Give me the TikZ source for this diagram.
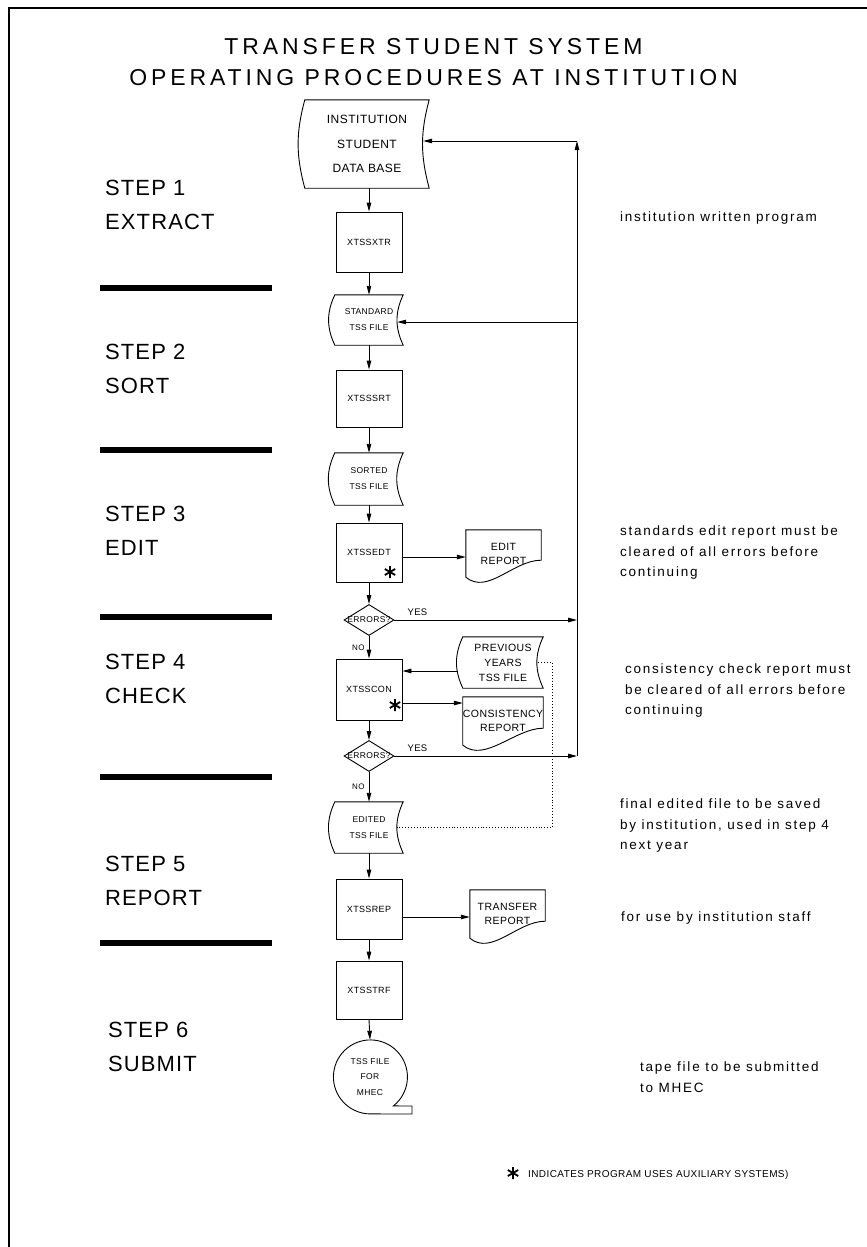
\documentclass[tikz,border=0pt]{standalone}
\usepackage{fontspec}
\setmainfont{Liberation Sans}
\newfontfamily\titlefont[LetterSpace=17]{Liberation Sans}
\newfontfamily\stepfont[LetterSpace=5]{Liberation Sans}
\newfontfamily\notefont[LetterSpace=13]{Liberation Sans}
\newfontfamily\smallfont[LetterSpace=4]{Liberation Sans}
\usetikzlibrary{arrows.meta,shapes.geometric}
\newcommand\storedshape[2]{\draw[shapeline] (#1.north west) to[bend right=#2] (#1.south west) -- (#1.south east) to[bend left=#2] (#1.north east) -- cycle;}
\newcommand\docshape[1]{\draw[shapeline] (#1.north west) -- (#1.north east) -- ([yshift=17pt]#1.south east) .. controls +(-28,0) and +(22,18) .. (#1.south west) -- cycle;}
\begin{document}
\begin{tikzpicture}[x=1pt,y=-1pt,
  shapeline/.style={line width=0.9pt},
  procbox/.style={draw, line width=0.9pt, minimum width=66pt, minimum height=60pt, inner sep=0pt, font=\smallfont\fontsize{9}{11}\selectfont},
  filenode/.style={minimum width=68pt, minimum height=50pt, inner sep=0pt, align=center, font=\smallfont\fontsize{8.5}{16}\selectfont},
  docnode/.style={minimum width=75pt, minimum height=47pt, inner sep=0pt, align=center, font=\smallfont\fontsize{10.5}{14}\selectfont},
  decision/.style={draw, diamond, line width=0.9pt, minimum width=50pt, minimum height=31pt, inner sep=0pt, font=\smallfont\fontsize{8.5}{10}\selectfont},
  arr/.style={line width=0.9pt, -{Triangle[length=9pt,width=4.5pt]}},
  dotline/.style={line width=0.9pt, dotted},
  titletext/.style={anchor=base, inner sep=0pt, font=\titlefont\fontsize{23}{30}\selectfont},
  steplabel/.style={anchor=north west, align=left, inner sep=0pt, font=\stepfont\fontsize{22}{34}\selectfont},
  note/.style={anchor=north west, align=left, inner sep=0pt, font=\notefont\fontsize{13.5}{20.5}\selectfont},
  yeslabel/.style={inner sep=0pt, font=\smallfont\fontsize{9.5}{10}\selectfont},
  nolabel/.style={inner sep=0pt, font=\smallfont\fontsize{8}{10}\selectfont},
  bar/.style={fill=black},
  astmark/.pic={\draw[line width=1.8pt] (0,-6) -- (0,6) (-5.2,-3) -- (5.2,3) (-5.2,3) -- (5.2,-3);}
]
\fill[white] (0,0) rectangle (867,1247);
\useasboundingbox (0,0) rectangle (867,1247);
\draw[line width=1.2pt] (9,1247) -- (9,8) -- (867,8);

% title
\node[titletext] (t1) at (433.5,55) {TRANSFER STUDENT SYSTEM};
\node[titletext] (t2) at (433.5,85) {OPERATING PROCEDURES AT INSTITUTION};

% step labels
\node[steplabel] (s1) at (105,180) {STEP 1\\EXTRACT};
\node[steplabel] (s2) at (105,344) {STEP 2\\SORT};
\node[steplabel] (s3) at (105,506) {STEP 3\\EDIT};
\node[steplabel] (s4) at (105,654) {STEP 4\\CHECK};
\node[steplabel] (s5) at (105,856) {STEP 5\\REPORT};
\node[steplabel] (s6) at (108,1022) {STEP 6\\SUBMIT};

% separator bars
\fill[bar] (100,285) rectangle (272,291);
\fill[bar] (100,447) rectangle (272,453);
\fill[bar] (100,614) rectangle (272,620);
\fill[bar] (100,774) rectangle (272,780);
\fill[bar] (100,940) rectangle (272,946);

% main column
\node[filenode, font=\smallfont\fontsize{12}{24.5}\selectfont, minimum width=124pt, minimum height=88pt] (db) at (367,144) {INSTITUTION\\STUDENT\\DATA BASE};
\storedshape{db}{15}
\node[procbox] (xtr) at (369,242) {XTSSXTR};
\node[filenode] (sf) at (369,320) {STANDARD\\TSS FILE};
\storedshape{sf}{25}
\node[procbox, minimum height=57pt] (srt) at (369,398.5) {XTSSSRT};
\node[filenode, minimum height=52pt] (sorted) at (369,479) {SORTED\\TSS FILE};
\storedshape{sorted}{25}
\node[procbox, minimum height=59pt] (edt) at (369,552.5) {XTSSEDT};
\pic at (390,572) {astmark};
\node[decision] (d1) at (369,620) {\makebox[0pt]{ERRORS?}};
\node[procbox, minimum height=61pt] (con) at (369,689.5) {XTSSCON};
\pic at (395,705) {astmark};
\node[decision] (d2) at (369,756) {\makebox[0pt]{ERRORS?}};
\node[filenode, minimum height=51pt] (ef) at (369,827.5) {EDITED\\TSS FILE};
\storedshape{ef}{25}
\node[procbox] (rep) at (369,909) {XTSSREP};
\node[procbox, minimum height=58pt] (trf) at (369,990) {XTSSTRF};
\node[circle, minimum size=74pt, inner sep=0pt, align=center, font=\smallfont\fontsize{8.5}{15.5}\selectfont] (tape) at (370,1077) {TSS FILE\\FOR\\MHEC};
\coordinate (tapeA) at (412,1114);
\coordinate (tapeB) at (412,1106);
\draw[shapeline] (tape.-51.6) arc[start angle=-51.6, end angle=270, radius=37pt] -- (tapeA) -- (tapeB) -- cycle;

% right-hand files and reports
\node[docnode] (editrep) at (503.5,553.5) {EDIT\\REPORT};
\docshape{editrep}
\node[filenode, font=\smallfont\fontsize{10.5}{15}\selectfont, minimum width=80pt, minimum height=51pt] (pyf) at (503,662.5) {PREVIOUS\\YEARS\\TSS FILE};
\storedshape{pyf}{25}
\node[docnode, minimum width=80pt, minimum height=48pt] (consrep) at (503,721) {CONSISTENCY\\REPORT};
\docshape{consrep}
\node[docnode, minimum height=48pt] (trep) at (507.5,914) {TRANSFER\\REPORT};
\docshape{trep}

% vertical flow
\draw[arr] (db.south -| xtr.north) -- (xtr.north);
\draw[arr] (xtr.south) -- (sf.north);
\draw[arr] (sf.south) -- (srt.north);
\draw[arr] (srt.south) -- (sorted.north);
\draw[arr] (sorted.south) -- (edt.north);
\draw[arr] (edt.south) -- (d1.north);
\draw[arr] (d1.south) -- node[nolabel, left=4pt] {NO} (con.north);
\draw[arr] (con.south) -- (d2.north);
\draw[arr] (d2.south) -- node[nolabel, left=4pt] {NO} (ef.north);
\draw[arr] (ef.south) -- (rep.north);
\draw[arr] (rep.south) -- (trf.north);
\draw[arr] (trf.south) -- (tape.north);

% feedback loop
\coordinate (fbtop) at (577,141);
\coordinate (fbsf) at (577,322);
\coordinate (fbbot) at (577,756);
\coordinate (dbin) at ([xshift=-6pt]db.east);
\coordinate (sfin) at ([xshift=-6pt]sf.east);
\draw[arr] (d1.east) -- node[yeslabel, pos=0.126, above=4pt] {YES} (d1.east -| fbbot);
\draw[arr] (d2.east) -- node[yeslabel, pos=0.126, above=4pt] {YES} (fbbot);
\draw[arr] (fbbot) -- (fbtop);
\draw[arr] (fbtop) -- (dbin |- fbtop);
\draw[arr] (fbsf) -- (sfin |- fbsf);

% side connectors
\coordinate (yedit) at (0,557);
\draw[arr] (edt.east |- yedit) -- (editrep.west |- yedit);
\coordinate (ypy) at (0,671);
\coordinate (pyfout) at ([xshift=-5pt]pyf.west);
\draw[arr] (pyfout |- ypy) -- (con.east |- ypy);
\coordinate (ycons) at (0,703);
\draw[arr] (con.east |- ycons) -- (consrep.west |- ycons);
\coordinate (ytr) at (0,917);
\draw[arr] (rep.east |- ytr) -- (trep.west |- ytr);

% dotted link
\coordinate (pyfin) at ([xshift=-5pt]pyf.east);
\coordinate (efin) at ([xshift=-6pt]ef.east);
\coordinate (dotx) at (552,0);
\draw[dotline] (pyfin) -- (pyfin -| dotx) -- (dotx |- efin) -- (efin);

% notes
\node[note] (n1) at (620,212) {institution written program};
\node[note] (n2) at (620,526) {standards edit report must be\\cleared of all errors before\\continuing};
\node[note] (n3) at (625,664) {consistency check report must\\be cleared of all errors before\\continuing};
\node[note] (n4) at (620,799) {final edited file to be saved\\by institution, used in step 4\\next year};
\node[note] (n5) at (621,912) {for use by institution staff};
\node[note] (n6) at (640,1062) {tape file to be submitted\\to MHEC};

% footnote
\pic at (513,1173) {astmark};
\node[anchor=west, inner sep=0pt, font=\smallfont\fontsize{10}{12}\selectfont] (foot) at (528,1175) {INDICATES PROGRAM USES AUXILIARY SYSTEMS)};
\end{tikzpicture}
\end{document}
